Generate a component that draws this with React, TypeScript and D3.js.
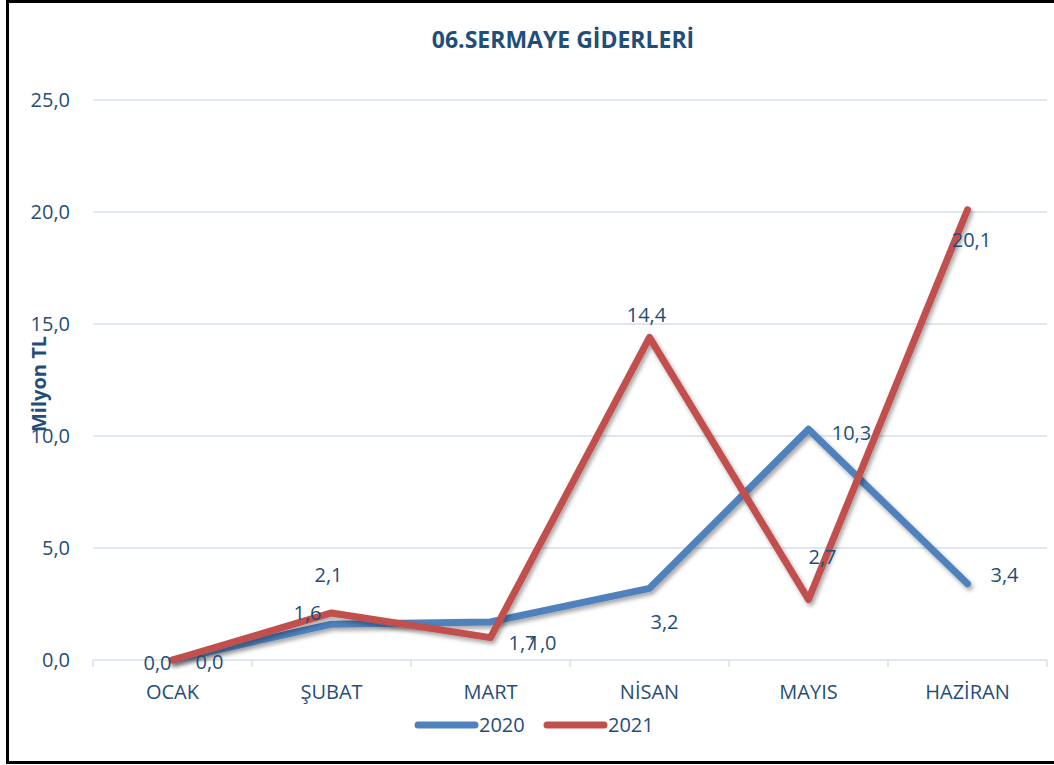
import * as d3 from "d3";
import React from "react";

const months = ["OCAK", "ŞUBAT", "MART", "NİSAN", "MAYIS", "HAZİRAN"];
const values2020 = [0.0, 1.6, 1.7, 3.2, 10.3, 3.4];
const values2021 = [0.0, 2.1, 1.0, 14.4, 2.7, 20.1];
const yTicks = [0, 5, 10, 15, 20, 25];

// where the value labels sit relative to their point (Excel put them all over the place)
const labelShift2020 = [[37, 2], [-24, -11], [32, 21], [15, 34], [43, 4], [37, -9]];
const labelShift2021 = [[-15, 3], [-3, -38], [52, 5], [-3, -22], [14, -43], [4, 30]];

const W = 1054;
const H = 765;
const textColor = "#1F4E79";
const gridColor = "#D3DFEF";
const font = "'Open Sans', 'Liberation Sans', sans-serif";

const trFormat = d3.formatLocale({
  decimal: ",",
  thousands: ".",
  grouping: [3],
  currency: ["", " TL"],
}).format(".1f");

const series = [
  { name: "2020", values: values2020, color: "#4F81BD", shift: labelShift2020 },
  { name: "2021", values: values2021, color: "#C0504D", shift: labelShift2021 },
];

export default function App() {
  const x = d3.scaleBand<string>().domain(months).range([93, 1047]);
  const y = d3.scaleLinear().domain([0, 25]).range([660, 100]);

  const line = d3
    .line<number>()
    .x((_, i) => (x(months[i]) ?? 0) + x.bandwidth() / 2)
    .y(d => y(d));

  const boundaries = [...months.map(m => x(m) ?? 0), x.range()[1]];

  return (
    <>
      <style>{`body{margin:0}`}</style>
      <svg width={W} height={H} style={{ display: "block", background: "#fff" }} fontFamily={font}>
        <defs>
          <filter id="shadow" x="-10%" y="-10%" width="120%" height="130%">
            <feDropShadow dx="2" dy="3" stdDeviation="2" floodColor="#000" floodOpacity="0.35" />
          </filter>
        </defs>

        <text x={563} y={48} textAnchor="middle" fontSize={23} fontWeight="bold" fill={textColor}>
          06.SERMAYE GİDERLERİ
        </text>

        {/* grid + y labels */}
        {yTicks.map(t => (
          <g key={t}>
            <line x1={93} x2={1047} y1={y(t)} y2={y(t)} stroke={gridColor} strokeWidth={1.5} />
            <text x={70} y={y(t)} dy="0.35em" textAnchor="end" fontSize={20} fill={textColor}>
              {trFormat(t)}
            </text>
          </g>
        ))}

        {boundaries.map((bx, i) => (
          <line key={i} x1={bx} x2={bx} y1={660} y2={667} stroke={gridColor} strokeWidth={1.5} />
        ))}

        {months.map(m => (
          <text
            key={m}
            x={(x(m) ?? 0) + x.bandwidth() / 2}
            y={692}
            dy="0.35em"
            textAnchor="middle"
            fontSize={20}
            fill={textColor}
          >
            {m}
          </text>
        ))}

        <text
          transform={`translate(39, 384) rotate(-90)`}
          textAnchor="middle"
          dy="0.35em"
          fontSize={20}
          fontWeight="bold"
          fill={textColor}
        >
          Milyon TL
        </text>

        {series.map(s => (
          <path
            key={s.name}
            d={line(s.values) ?? ""}
            fill="none"
            stroke={s.color}
            strokeWidth={7}
            strokeLinejoin="round"
            strokeLinecap="round"
            filter="url(#shadow)"
          />
        ))}

        {series.map(s =>
          s.values.map((v, i) => (
            <text
              key={s.name + i}
              x={(x(months[i]) ?? 0) + x.bandwidth() / 2 + s.shift[i][0]}
              y={y(v) + s.shift[i][1]}
              dy="0.35em"
              textAnchor="middle"
              fontSize={20}
              fill={textColor}
            >
              {trFormat(v)}
            </text>
          ))
        )}

        {/* legend */}
        <g transform="translate(418, 725)">
          {series.map((s, i) => (
            <g key={s.name} transform={`translate(${i * 129}, 0)`}>
              <line x1={0} x2={57} y1={0} y2={0} stroke={s.color} strokeWidth={7} strokeLinecap="round" />
              <text x={61} dy="0.35em" fontSize={20} fill={textColor}>
                {s.name}
              </text>
            </g>
          ))}
        </g>

        <rect x={7.5} y={1.5} width={W + 10} height={H - 4} fill="none" stroke="#000" strokeWidth={3} />
      </svg>
    </>
  );
}
